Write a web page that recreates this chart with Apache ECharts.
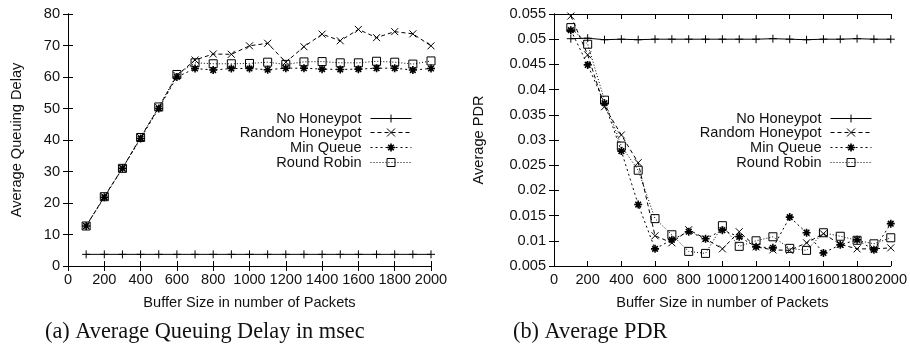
<!DOCTYPE html>
<html>
<head>
<meta charset="utf-8">
<script src="https://cdn.jsdelivr.net/npm/echarts@6/dist/echarts.min.js"></script>
<style>
  html, body { margin: 0; padding: 0; background: #fff; }
  #chart { width: 910px; height: 359px; }
</style>
</head>
<body>
<div id="chart"></div>
<script>
const bufferSizes = [100, 200, 300, 400, 500, 600, 700, 800, 900, 1000,
  1100, 1200, 1300, 1400, 1500, 1600, 1700, 1800, 1900, 2000];

const seriesNames = ['No Honeypot', 'Random Honeypot', 'Min Queue', 'Round Robin'];

// (a) average queuing delay, msec
const delayNoHoneypot = [3.7, 3.7, 3.7, 3.7, 3.7, 3.7, 3.7, 3.7, 3.7, 3.7,
  3.7, 3.7, 3.7, 3.7, 3.7, 3.7, 3.7, 3.7, 3.7, 3.7];
const delayRandom = [12.7, 22, 31, 40.8, 50.3, 60.5, 65.4, 67.3, 67.2, 69.9,
  70.7, 64.7, 69.6, 73.6, 71.5, 75.1, 72.5, 74.4, 73.7, 69.9];
const delayMinQueue = [12.7, 21.8, 31, 40.5, 50, 60, 62.7, 62.2, 62.7, 62.7,
  62.3, 62.8, 62.8, 62.5, 62.4, 62.5, 62.8, 62.8, 62.2, 62.7];
const delayRoundRobin = [12.7, 22, 31, 40.8, 50.5, 60.8, 64.5, 64.2, 64.2, 64.3,
  64.7, 64, 64.8, 64.9, 64.5, 64.5, 65, 64.7, 64.1, 65.1];

// (b) average PDR
const pdrNoHoneypot = [0.0501, 0.0502, 0.0499, 0.05, 0.0499, 0.05, 0.05, 0.05, 0.05, 0.05,
  0.05, 0.05, 0.0501, 0.05, 0.0499, 0.05, 0.05, 0.0501, 0.05, 0.05];
const pdrRandom = [0.0546, 0.0469, 0.0366, 0.031, 0.0255, 0.011, 0.0096, 0.0122, 0.0104, 0.0084,
  0.0118, 0.0088, 0.0082, 0.0081, 0.0096, 0.0114, 0.0093, 0.0084, 0.0084, 0.0086];
const pdrMinQueue = [0.0518, 0.0449, 0.0373, 0.0278, 0.0172, 0.0084, 0.0102, 0.0118, 0.0104, 0.0121,
  0.0108, 0.0088, 0.0086, 0.0147, 0.0116, 0.0076, 0.0092, 0.0102, 0.0082, 0.0134];
const pdrRoundRobin = [0.0523, 0.049, 0.0379, 0.0288, 0.024, 0.0144, 0.0112, 0.0079, 0.0075, 0.013,
  0.0089, 0.01, 0.0108, 0.0085, 0.0081, 0.0116, 0.0109, 0.0101, 0.0094, 0.0106];

const xTitle = 'Buffer Size in number of Packets';
const captionA = '(a) Average Queuing Delay in msec';
const captionB = '(b) Average PDR';

const FONT = 'Liberation Sans';
const FS = 14.6;
const INK = '#111';

// gnuplot-like point types
const styles = [
  { symbol: 'path://M0,5L10,5M5,0L5,10', size: 8, dash: 'solid' },
  { symbol: 'path://M0,0L10,10M10,0L0,10', size: 7, dash: [4, 3] },
  { symbol: 'path://M0,5L10,5M5,0L5,10M1.5,1.5L8.5,8.5M8.5,1.5L1.5,8.5', size: 8, dash: [2, 3] },
  { symbol: 'rect', size: 8, dash: [1, 2] }
];

function zip(ys) {
  return bufferSizes.map((x, i) => [x, ys[i]]);
}

function makeSeries(grid, ys, k) {
  const s = styles[k];
  return {
    name: seriesNames[k],
    type: 'line',
    xAxisIndex: grid * 2,
    yAxisIndex: grid * 2,
    data: zip(ys),
    symbol: s.symbol,
    symbolSize: s.size,
    showAllSymbol: true,
    animation: false,
    lineStyle: { color: '#000', width: 1, type: s.dash },
    itemStyle: { color: 'rgba(0,0,0,0)', borderColor: '#000', borderWidth: k === 2 ? 1.6 : 1 },
    emphasis: { disabled: true }
  };
}

function xAxes(grid) {
  const base = {
    gridIndex: grid,
    type: 'value',
    min: 0,
    max: 2000,
    interval: 200,
    splitLine: { show: false },
    axisLine: { show: true, lineStyle: { color: '#000', width: 1 } },
    axisTick: { show: true, inside: true, length: 5, lineStyle: { color: '#000' } }
  };
  return [
    Object.assign({}, base, {
      position: 'bottom',
      name: xTitle,
      nameLocation: 'middle',
      nameGap: 29,
      nameTextStyle: { fontFamily: FONT, fontSize: FS, color: INK },
      axisLabel: {
        fontFamily: FONT, fontSize: FS, color: INK, margin: 6,
        hideOverlap: false, showMinLabel: true, showMaxLabel: true,
        formatter: (v) => String(v)
      }
    }),
    Object.assign({}, base, { position: 'top', axisLabel: { show: false } })
  ];
}

function yAxes(grid, min, max, interval, title, gap, fmt) {
  const base = {
    gridIndex: grid,
    type: 'value',
    min: min,
    max: max,
    interval: interval,
    splitLine: { show: false },
    axisLine: { show: true, lineStyle: { color: '#000', width: 1 } },
    axisTick: { show: true, inside: true, length: 5, lineStyle: { color: '#000' } }
  };
  return [
    Object.assign({}, base, {
      position: 'left',
      name: title,
      nameLocation: 'middle',
      nameGap: gap,
      nameTextStyle: { fontFamily: FONT, fontSize: FS, color: INK },
      axisLabel: { fontFamily: FONT, fontSize: FS, color: INK, margin: 8, formatter: fmt }
    }),
    Object.assign({}, base, { position: 'right', axisLabel: { show: false } })
  ];
}

// one legend per row so texts are right aligned against the line samples
const legendRowTops = [111, 125, 140, 155];
function legends(rightEdge) {
  return seriesNames.map((name, k) => ({
    data: [name],
    orient: 'vertical',
    align: 'right',
    right: rightEdge,
    top: legendRowTops[k],
    padding: 0,
    itemWidth: 41,
    itemHeight: 10,
    selectedMode: false,
    lineStyle: { width: 1 },
    itemStyle: { borderWidth: k === 2 ? 1.6 : 1 },
    textStyle: { fontFamily: FONT, fontSize: FS, color: INK, padding: [0, 4, 0, 0] }
  }));
}

const pdrFmt = (v) => String(+v.toFixed(3));
const captionStyle = { fontFamily: 'Liberation Serif', fontSize: 22.3, fontWeight: 'normal', color: INK };

const option = {
  backgroundColor: '#fff',
  animation: false,
  title: [
    { text: captionA, left: 45, top: 321, padding: 0, textStyle: captionStyle },
    { text: captionB, left: 513, top: 321, padding: 0, textStyle: captionStyle }
  ],
  grid: [
    { left: 68, top: 14, width: 363, height: 252 },
    { left: 554, top: 14, width: 337, height: 252 }
  ],
  legend: legends(498).concat(legends(38)),
  xAxis: xAxes(0).concat(xAxes(1)),
  yAxis: yAxes(0, 0, 80, 10, 'Average Queuing Delay', 44)
    .concat(yAxes(1, 0.005, 0.055, 0.005, 'Average PDR', 68, pdrFmt)),
  series: [
    makeSeries(0, delayNoHoneypot, 0),
    makeSeries(0, delayRandom, 1),
    makeSeries(0, delayMinQueue, 2),
    makeSeries(0, delayRoundRobin, 3),
    makeSeries(1, pdrNoHoneypot, 0),
    makeSeries(1, pdrRandom, 1),
    makeSeries(1, pdrMinQueue, 2),
    makeSeries(1, pdrRoundRobin, 3)
  ]
};

const chart = echarts.init(document.getElementById('chart'), null, { renderer: 'canvas' });
chart.setOption(option);
</script>
</body>
</html>
